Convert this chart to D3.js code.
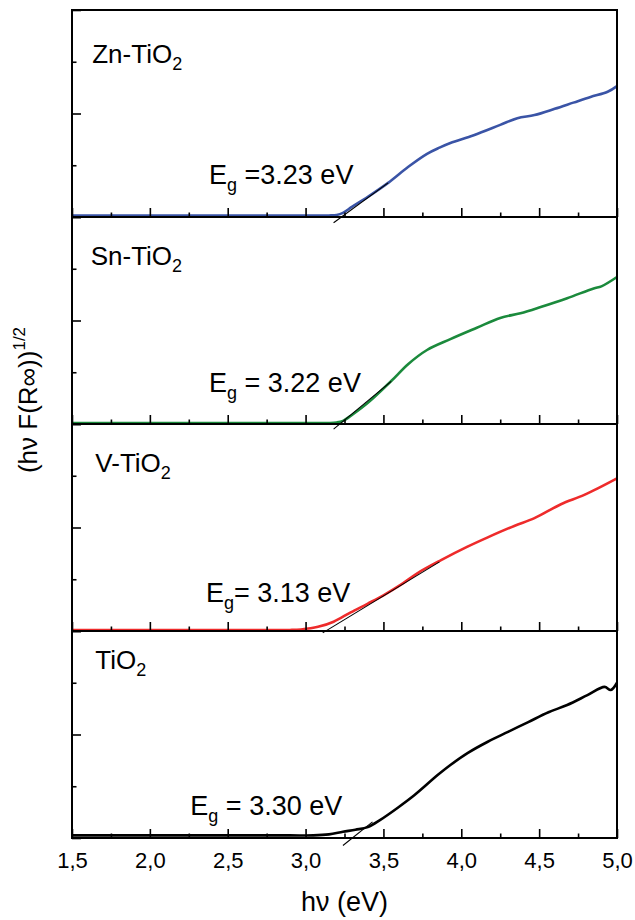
<!DOCTYPE html>
<html>
<head>
<meta charset="utf-8">
<script src="https://cdn.jsdelivr.net/npm/d3@7"></script>
<style>
  html, body { margin: 0; padding: 0; background: #fff; }
  svg { display: block; font-family: "Liberation Sans", Arial, sans-serif; }
</style>
</head>
<body>
<svg id="chart" width="635" height="920"></svg>
<script>
// ---------------- data ----------------
const panelNames = ["Zn-TiO", "Sn-TiO", "V-TiO", "TiO"];
const panelColors = ["#3a54a6", "#1b8a3c", "#ee2b2b", "#000000"];
const bandGaps = [3.23, 3.22, 3.13, 3.30];
const bandGapTexts = [" =3.23 eV", " = 3.22 eV", "= 3.13 eV", " = 3.30 eV"];

const energyZn = [1.5, 2.0, 2.5, 3.0, 3.15, 3.2, 3.24, 3.3, 3.4, 3.53, 3.66, 3.78, 3.86, 3.93, 4.08, 4.25, 4.36, 4.47, 4.6, 4.72, 4.83, 4.94, 5.0];
const valueZn  = [0.03, 0.03, 0.03, 0.03, 0.03, 0.04, 0.08, 0.2, 0.39, 0.66, 0.97, 1.22, 1.34, 1.43, 1.58, 1.78, 1.91, 1.97, 2.09, 2.21, 2.32, 2.42, 2.53];

const energySn = [1.5, 2.0, 2.5, 3.0, 3.15, 3.2, 3.24, 3.3, 3.4, 3.55, 3.66, 3.78, 3.93, 4.1, 4.25, 4.38, 4.51, 4.68, 4.85, 4.9, 5.0];
const valueSn  = [0.02, 0.02, 0.02, 0.02, 0.02, 0.03, 0.06, 0.18, 0.41, 0.83, 1.16, 1.43, 1.64, 1.86, 2.05, 2.14, 2.26, 2.43, 2.62, 2.66, 2.84];

const energyV = [1.5, 2.0, 2.5, 2.9, 2.97, 3.08, 3.18, 3.29, 3.4, 3.5, 3.61, 3.72, 3.87, 4.04, 4.17, 4.34, 4.47, 4.64, 4.79, 5.0];
const valueV  = [0.02, 0.02, 0.02, 0.02, 0.03, 0.08, 0.18, 0.36, 0.53, 0.69, 0.89, 1.12, 1.37, 1.63, 1.81, 2.03, 2.18, 2.45, 2.63, 2.95];

const energyTi = [1.5, 2.0, 2.5, 2.9, 3.05, 3.15, 3.24, 3.32, 3.4, 3.48, 3.59, 3.7, 3.85, 3.93, 4.04, 4.17, 4.3, 4.43, 4.56, 4.68, 4.81, 4.92, 4.96, 5.0];
const valueTi  = [0.05, 0.05, 0.05, 0.05, 0.05, 0.07, 0.12, 0.16, 0.21, 0.35, 0.58, 0.83, 1.22, 1.41, 1.64, 1.86, 2.05, 2.24, 2.43, 2.57, 2.76, 2.92, 2.86, 3.0];

// tangent lines: start / end energies and slope (units per eV), through (Eg, 0)
const tangentStart = [3.18, 3.18, 3.11, 3.24];
const tangentEnd   = [3.53, 3.55, 3.86, 3.43];
const tangentSlope = [2.2, 2.5, 1.83, 2.4];

// annotation anchors in data units
const nameAnchorX = [1.63, 1.62, 1.65, 1.65];
const nameAnchorY = [2.98, 3.07, 3.07, 3.27];
const gapAnchorX  = [2.38, 2.38, 2.36, 2.26];
const gapAnchorY  = [0.64, 0.62, 0.56, 0.44];

const xMajorTicks = [1.5, 2.0, 2.5, 3.0, 3.5, 4.0, 4.5, 5.0];
const xMinorTicks = [1.75, 2.25, 2.75, 3.25, 3.75, 4.25, 4.75];
const yMajorTicks = [0, 2, 4];
const yMinorTicks = [1, 3];

const series = [
  { x: energyZn, y: valueZn },
  { x: energySn, y: valueSn },
  { x: energyV,  y: valueV  },
  { x: energyTi, y: valueTi }
];

// ---------------- layout ----------------
const plotLeft = 72, plotRight = 617, plotTop = 10, plotBottom = 838;
const nPanels = 4;
const panelH = (plotBottom - plotTop) / nPanels;

const svg = d3.select("#chart");
const x = d3.scaleLinear().domain([1.5, 5.0]).range([plotLeft, plotRight]);

const line = d3.line().curve(d3.curveCatmullRom.alpha(0.5));

series.forEach((s, i) => {
  const p0 = plotTop + i * panelH, p1 = p0 + panelH;
  const y = d3.scaleLinear().domain([0, 4]).range([p1, p0]);
  const g = svg.append("g");

  // curve
  const pts = s.x.map((e, k) => [x(e), y(s.y[k])]);
  g.append("path").attr("d", line(pts))
    .attr("fill", "none").attr("stroke", panelColors[i])
    .attr("stroke-width", 2.6).attr("stroke-linejoin", "round");

  // tangent line
  const eg = bandGaps[i], k = tangentSlope[i];
  g.append("line")
    .attr("x1", x(tangentStart[i])).attr("y1", y(k * (tangentStart[i] - eg)))
    .attr("x2", x(tangentEnd[i])).attr("y2", y(k * (tangentEnd[i] - eg)))
    .attr("stroke", "#000").attr("stroke-width", 1.1);

  // x ticks (inward)
  const xMaj = d3.axisBottom(x).tickValues(xMajorTicks).tickSize(-9).tickPadding(14)
    .tickFormat(i === nPanels - 1 ? (d => d3.format(".1f")(d).replace(".", ",")) : "");
  const xMin = d3.axisBottom(x).tickValues(xMinorTicks).tickSize(-4.5).tickFormat("");
  const gx = g.append("g").attr("transform", `translate(0,${p1})`).call(xMaj);
  const gxm = g.append("g").attr("transform", `translate(0,${p1})`).call(xMin);
  [gx, gxm].forEach(a => {
    a.select(".domain").remove();
    a.selectAll("line").attr("stroke", "#000").attr("stroke-width", 1.6);
  });
  gx.selectAll("text").attr("font-size", 22).attr("fill", "#000")
    .attr("font-family", "Liberation Sans, Arial, sans-serif");

  // y ticks (inward, no labels)
  const yMaj = d3.axisLeft(y).tickValues(yMajorTicks).tickSize(-9).tickFormat("");
  const yMin = d3.axisLeft(y).tickValues(yMinorTicks).tickSize(-4.5).tickFormat("");
  [yMaj, yMin].forEach(ax => {
    const a = g.append("g").attr("transform", `translate(${plotLeft},0)`).call(ax);
    a.select(".domain").remove();
    a.selectAll("line").attr("stroke", "#000").attr("stroke-width", 1.6);
  });

  // panel name with subscript 2
  const t = g.append("text")
    .attr("x", x(nameAnchorX[i])).attr("y", y(nameAnchorY[i]))
    .attr("font-size", 26).attr("fill", "#000");
  t.append("tspan").text(panelNames[i]);
  t.append("tspan").attr("font-size", 18).attr("dy", 7).text("2");

  // band gap label
  const tg = g.append("text")
    .attr("x", x(gapAnchorX[i])).attr("y", y(gapAnchorY[i]))
    .attr("font-size", 27).attr("fill", "#000");
  tg.append("tspan").text("E");
  tg.append("tspan").attr("font-size", 18).attr("dy", 7).text("g");
  tg.append("tspan").attr("dy", -7).style("white-space", "pre").text(bandGapTexts[i]);

  // panel separator
  if (i > 0) {
    svg.append("line").attr("x1", plotLeft).attr("x2", plotRight).attr("y1", p0).attr("y2", p0)
      .attr("stroke", "#000").attr("stroke-width", 2);
  }
});

// outer frame
svg.append("rect").attr("x", plotLeft).attr("y", plotTop)
  .attr("width", plotRight - plotLeft).attr("height", plotBottom - plotTop)
  .attr("fill", "none").attr("stroke", "#000").attr("stroke-width", 2);

// x-axis title
svg.append("text").attr("x", (plotLeft + plotRight) / 2).attr("y", 911)
  .attr("text-anchor", "middle").attr("font-size", 27).attr("fill", "#000")
  .text("h\u03BD (eV)");

// y-axis title
const yt = svg.append("text")
  .attr("transform", `translate(37,400) rotate(-90)`)
  .attr("text-anchor", "middle").attr("font-size", 26).attr("fill", "#000");
yt.append("tspan").text("(h\u03BD F(R\u221E))");
yt.append("tspan").attr("font-size", 17).attr("dy", -12).text("1/2");
</script>
</body>
</html>
